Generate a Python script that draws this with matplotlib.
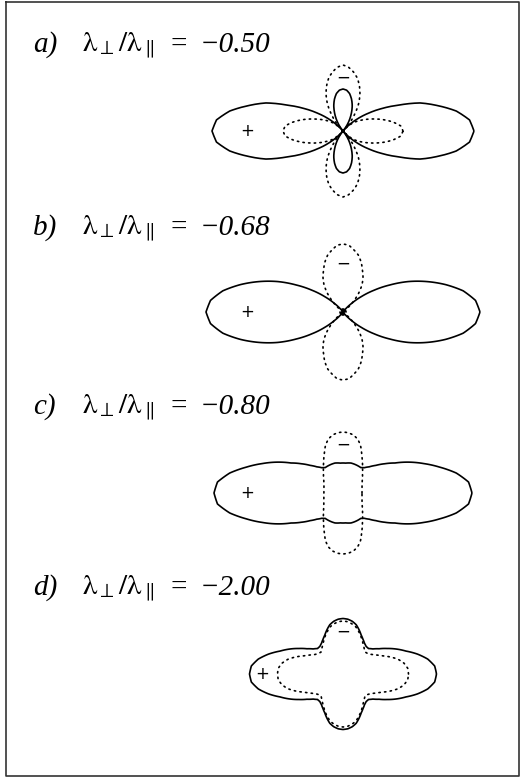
import numpy as np
import matplotlib
matplotlib.use("Agg")
import matplotlib.pyplot as plt
from matplotlib.lines import Line2D
from matplotlib.path import Path
from matplotlib.patches import PathPatch

plt.rcParams['mathtext.fontset'] = 'stix'

W, H = 520, 778
RMAX = 150.0

# angles of the tabulated radii, one quadrant (deg); curves are mirrored
angles = np.arange(0, 91, 5)

panel_tags = ['a)', 'b)', 'c)', 'd)']
ratio_text = ['\u22120.50', '\u22120.68', '\u22120.80', '\u22122.00']

# radius of the positive (solid) and negative (dotted) surfaces
solid_a = [131, 127, 115, 98, 82, 61, 45, 31, 19, 8, 0, 6, 13, 20, 27, 33, 38, 41, 42]
dotted_a = [60, 58, 51, 43, 35, 28, 22, 17, 12, 4, 10, 20, 31, 40, 48, 55, 60, 64, 66]

solid_b = [137, 133, 122, 106, 89, 72, 54, 38, 24, 12, 4, 1, 0, 1, 2, 3, 3, 3, 3]
dotted_b = [3, 3, 3, 3, 2, 2, 1, 0, 4, 14, 24, 33, 40, 46, 53, 59, 63, 67, 68]

solid_c = [129, 126, 115, 100, 86, 73, 60, 51, 43, 37, 33, 31, 31, 31, 31, 31, 30.5, 30, 30]
dotted_c = [19, 19.1, 19.3, 19.7, 20.2, 21, 22, 23.5, 25.5, 27.5, 30.5, 34, 38.5, 44, 51, 56, 59, 60.5, 61]

solid_d = [93.5, 92, 86, 77, 67, 59, 51, 44, 39, 36, 36, 37.5, 40, 43, 47, 51, 53.5, 55, 55.5]
dotted_d = [65.5, 65, 62, 57, 50, 43, 38, 34, 32, 31, 33, 35.5, 38.5, 42, 45.5, 49, 51, 52.5, 53]

solids = [solid_a, solid_b, solid_c, solid_d]
dotteds = [dotted_a, dotted_b, dotted_c, dotted_d]

# sign markers: radius of "+" (left) and "-" (top)
plus_r = [96, 96, 96, 81]
minus_r = [53, 48, 48, 42]

# pixel layout of each panel
centers = [(343, 131), (343, 312), (343, 493), (343, 674)]
title_y = [45, 228, 407, 588]


def full_curve(r):
    r = np.asarray(r, dtype=float)
    th = np.deg2rad(angles)
    theta = np.concatenate([th, np.pi - th[::-1], np.pi + th, 2 * np.pi - th[::-1]])
    rr = np.concatenate([r, r[::-1], r, r[::-1]])
    return theta, rr


def polar_outline(ax, r, **kw):
    theta, rr = full_curve(r)
    # path segments follow arcs in the polar projection
    path = Path(np.column_stack([theta, rr]), _interpolation_steps=16)
    ax.add_patch(PathPatch(path, fill=False, color='black', **kw))


fig = plt.figure(figsize=(W / 100, H / 100), dpi=100)

for i in range(4):
    cx, cy = centers[i]
    ax = fig.add_axes([(cx - RMAX) / W, 1 - (cy + RMAX) / H, 2 * RMAX / W, 2 * RMAX / H],
                      projection='polar')
    ax.set_rlim(0, RMAX)
    ax.axis('off')
    ax.patch.set_alpha(0)

    polar_outline(ax, solids[i], lw=1.2, joinstyle='round')
    polar_outline(ax, dotteds[i], lw=1.2, linestyle=(0, (0.8, 2.6)), capstyle='round')

    ax.text(np.pi, plus_r[i], '+', ha='center', va='center', fontsize=12,
            family='DejaVu Sans')
    ax.text(np.pi / 2, minus_r[i], '\u2212', ha='center', va='center', fontsize=12,
            family='DejaVu Sans')

    ty = 1 - title_y[i] / H
    fig.text(33 / W, ty, panel_tags[i], ha='left', va='center', fontsize=21,
             family='Liberation Serif', style='italic')
    fig.text(82 / W, ty, r'$\mathrm{\lambda}_{\perp}/\mathrm{\lambda}_{\parallel}$',
             ha='left', va='center', fontsize=21)
    fig.text(171 / W, ty, '=', ha='left', va='center', fontsize=21, family='Liberation Serif')
    fig.text(200 / W, ty, ratio_text[i], ha='left', va='center', fontsize=21,
             family='Liberation Serif', style='italic')

# frame around the figure
frame_x = [6 / W, 519 / W, 519 / W, 6 / W, 6 / W]
frame_y = [1 - 2 / H, 1 - 2 / H, 1 - 776 / H, 1 - 776 / H, 1 - 2 / H]
fig.add_artist(Line2D(frame_x, frame_y, color='#333333', lw=1.2))

fig.savefig('out.png', dpi=100)
